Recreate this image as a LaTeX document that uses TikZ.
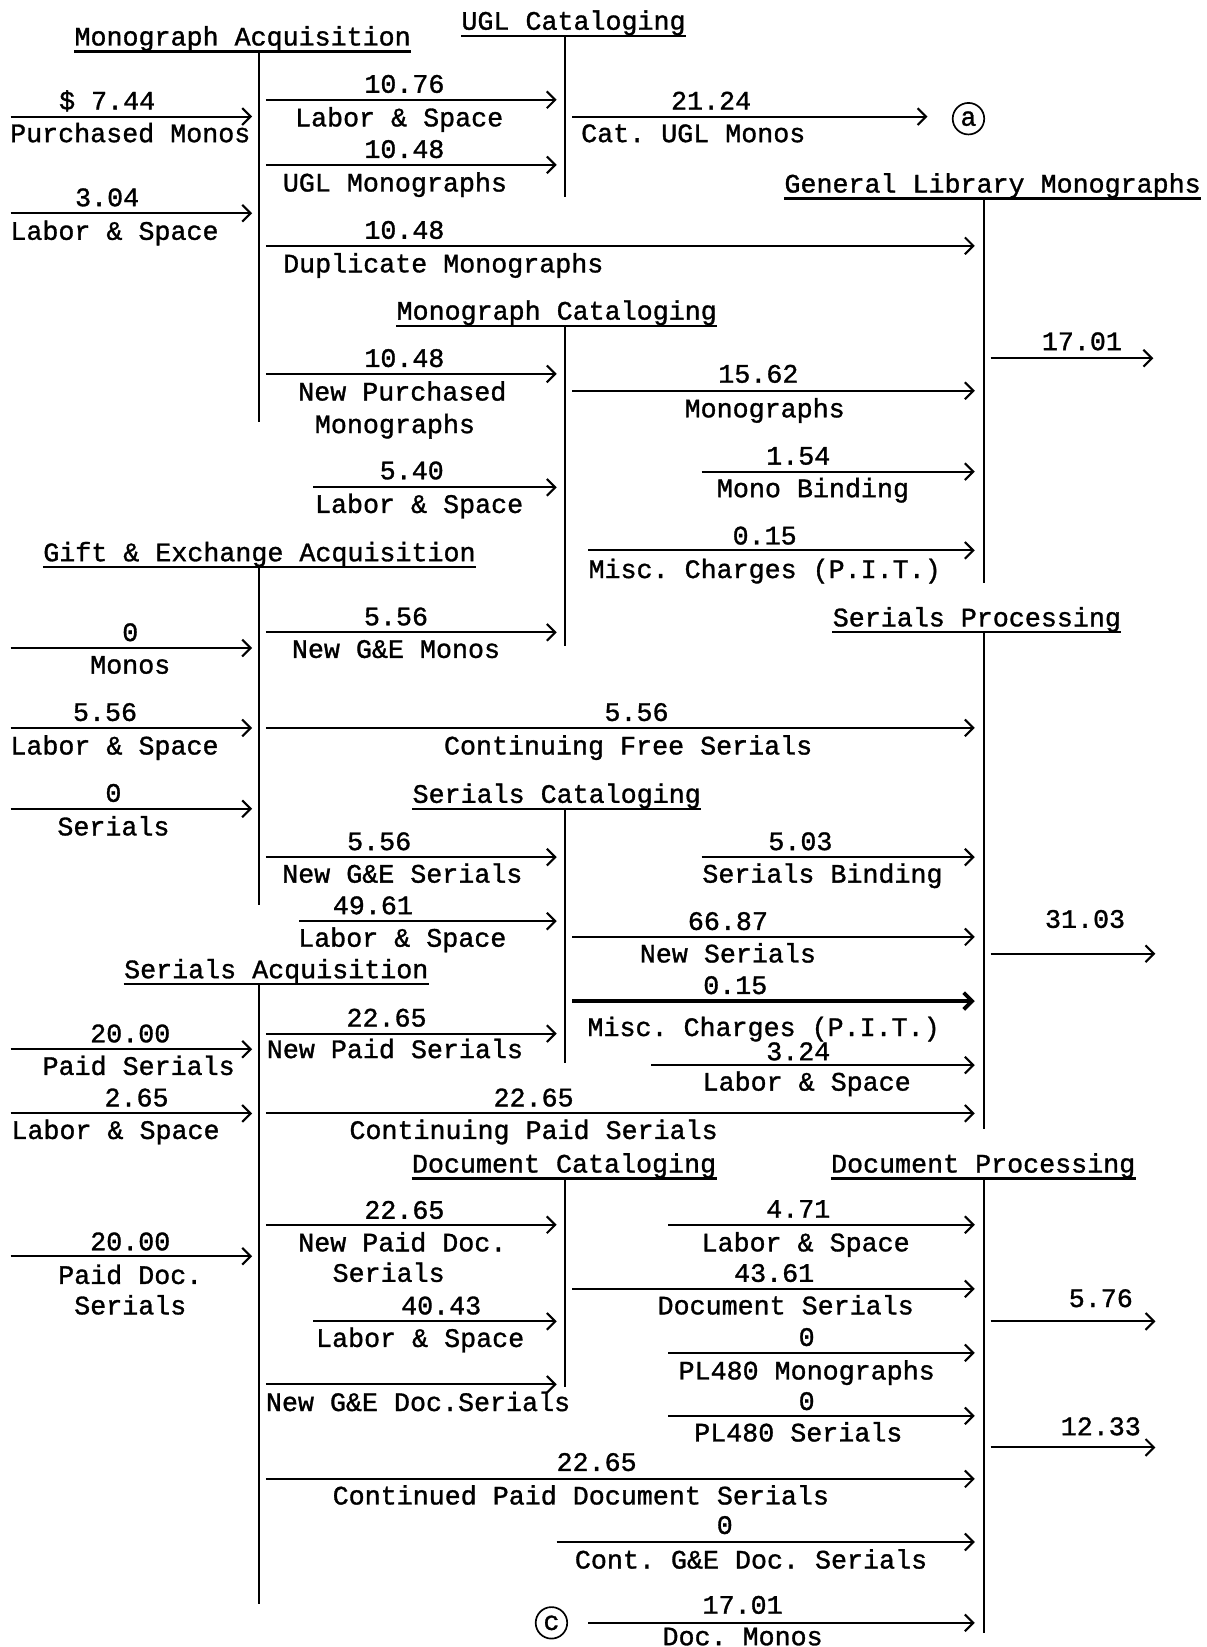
\documentclass[tikz,border=0pt]{standalone}
\usepackage{fontspec}
\setmonofont[FakeBold=1.2]{Liberation Mono}
\usepackage{tikz}
\usetikzlibrary{arrows.meta}

\tikzset{
  flow/.style={-{Straight Barb[length=4pt,width=8pt]}, line width=1pt},
  heavy/.style={flow, line width=1.8pt},
  bar/.style={line width=1pt},
  title/.style={inner sep=0pt, anchor=mid, yshift=-2pt},
  txt/.style={inner sep=0pt, anchor=mid, yshift=-2pt},
  ring/.style={circle, draw, line width=0.8pt, inner sep=0pt, minimum size=15pt}
}

\begin{document}
\begin{tikzpicture}[x=0.5pt, y=-0.5pt, font=\ttfamily\fontsize{12.7}{15}\selectfont]
\useasboundingbox (0,0) rectangle (1149,1568);

\def\colL{247}
\def\colM{538}
\def\colR{937}

% process titles, underlines and bars
\foreach \nm/\tx/\ty/\col/\bot/\ttl in {
  monacq/231/35/\colL/402/Monograph Acquisition,
  uglcat/546/20/\colM/188/UGL Cataloging,
  glmono/945/175/\colR/555/General Library Monographs,
  moncat/530/296/\colM/615/Monograph Cataloging,
  geacq/247/526/\colL/862/Gift \& Exchange Acquisition,
  serproc/930/588/\colR/1075/Serials Processing,
  sercat/530/756/\colM/1012/Serials Cataloging,
  seracq/263/923/\colL/1527/Serials Acquisition,
  doccat/537/1108/\colM/1320/Document Cataloging,
  docproc/936/1108/\colR/1555/Document Processing}
{
  \node[title] (\nm) at (\tx,\ty) {\ttl};
  \draw[bar] ([yshift=-5pt]\nm.mid west) -- ([yshift=-5pt]\nm.mid east);
  \draw[bar] (\col,\ty+14) -- (\col,\bot);
}

% flows
\foreach \xa/\xb/\y in {
  10/240/111, 10/240/203, 253/530/95, 253/530/157, 545/883/111,
  253/928/234, 253/530/356, 298/530/464, 545/928/372, 668/928/449,
  560/928/524, 943/1098/341,
  10/240/617, 10/240/693, 10/240/770, 253/530/602, 253/928/693,
  253/530/816, 285/530/877, 668/928/816, 545/928/892, 620/928/1014,
  943/1100/908,
  10/240/999, 10/240/1060, 253/530/984, 253/928/1060, 10/240/1196,
  253/530/1166, 298/530/1258, 253/530/1318, 636/928/1166, 545/928/1227,
  636/928/1288, 636/928/1348, 943/1100/1258, 943/1100/1378,
  253/928/1408, 530/928/1468, 560/928/1545}
  \draw[flow] (\xa,\y) -- (\xb,\y);
\draw[heavy] (545,953) -- (928,953);

% amounts and labels
\foreach \nm/\x/\y/\t in {
  pm-n/102/96/\$ 7.44, pm-l/124/127/Purchased Monos,
  mls-n/102/188/3.04, mls-l/109/220/Labor \& Space,
  uls-n/385/80/10.76, uls-l/380/112/Labor \& Space,
  um-n/385/142/10.48, um-l/376/174/UGL Monographs,
  cu-n/677/96/21.24, cu-l/660/127/Cat. UGL Monos,
  dm-n/385/219/10.48, dm-l/422/251/Duplicate Monographs,
  npm-n/385/341/10.48, npm-l/383/373/New Purchased, npm-m/376/404/Monographs,
  mcls-n/392/448/5.40, mcls-l/399/480/Labor \& Space,
  mo-n/722/356/15.62, mo-l/728/389/Monographs,
  mb-n/760/434/1.54, mb-l/774/465/Mono Binding,
  mmc-n/728/510/0.15, mmc-l/728/542/Misc. Charges (P.I.T.),
  glo-n/1030/325/17.01,
  gm-n/124/602/0, gm-l/124/633/Monos,
  gls-n/100/678/5.56, gls-l/109/710/Labor \& Space,
  gs-n/108/755/0, gs-l/108/787/Serials,
  ngm-n/377/587/5.56, ngm-l/377/618/New G\&E Monos,
  cfs-n/606/678/5.56, cfs-l/598/710/Continuing Free Serials,
  ngs-n/361/801/5.56, ngs-l/383/832/New G\&E Serials,
  scls-n/355/862/49.61, scls-l/383/893/Labor \& Space,
  sb-n/762/801/5.03, sb-l/783/832/Serials Binding,
  ns-n/693/877/66.87, ns-l/693/908/New Serials,
  smc-n/700/938/0.15, smc-l/727/978/Misc. Charges (P.I.T.),
  spls-n/760/1001/3.24, spls-l/768/1030/Labor \& Space,
  spo-n/1033/875/31.03,
  ps-n/124/984/20.00, ps-l/132/1015/Paid Serials,
  sals-n/130/1045/2.65, sals-l/110/1076/Labor \& Space,
  nps-n/368/969/22.65, nps-l/376/999/New Paid Serials,
  cps-n/508/1045/22.65, cps-l/508/1076/Continuing Paid Serials,
  pd-n/124/1182/20.00, pd-l/124/1214/Paid Doc., pd-m/124/1243/Serials,
  npd-n/385/1152/22.65, npd-l/383/1183/New Paid Doc., npd-m/370/1212/Serials,
  dcls-n/420/1243/40.43, dcls-l/400/1274/Labor \& Space,
  ngd-l/398/1335/New G\&E Doc.Serials,
  dpls-n/760/1151/4.71, dpls-l/767/1183/Labor \& Space,
  ds-n/737/1212/43.61, ds-l/748/1243/Document Serials,
  plm-n/768/1273/0, plm-l/768/1305/PL480 Monographs,
  pls-n/768/1334/0, pls-l/760/1364/PL480 Serials,
  dpa-n/1048/1236/5.76, dpb-n/1048/1358/12.33,
  cpd-n/568/1392/22.65, cpd-l/553/1424/Continued Paid Document Serials,
  cgd-n/690/1452/0, cgd-l/715/1485/Cont. G\&E Doc. Serials,
  dmo-n/707/1528/17.01, dmo-l/707/1558/Doc. Monos}
  \node[txt] (\nm) at (\x,\y) {\t};

% connectors to other sheets
\node[ring] (sheet-a) at (922,113) {a};
\node[ring] (sheet-c) at (525,1545) {c};
\end{tikzpicture}
\end{document}
